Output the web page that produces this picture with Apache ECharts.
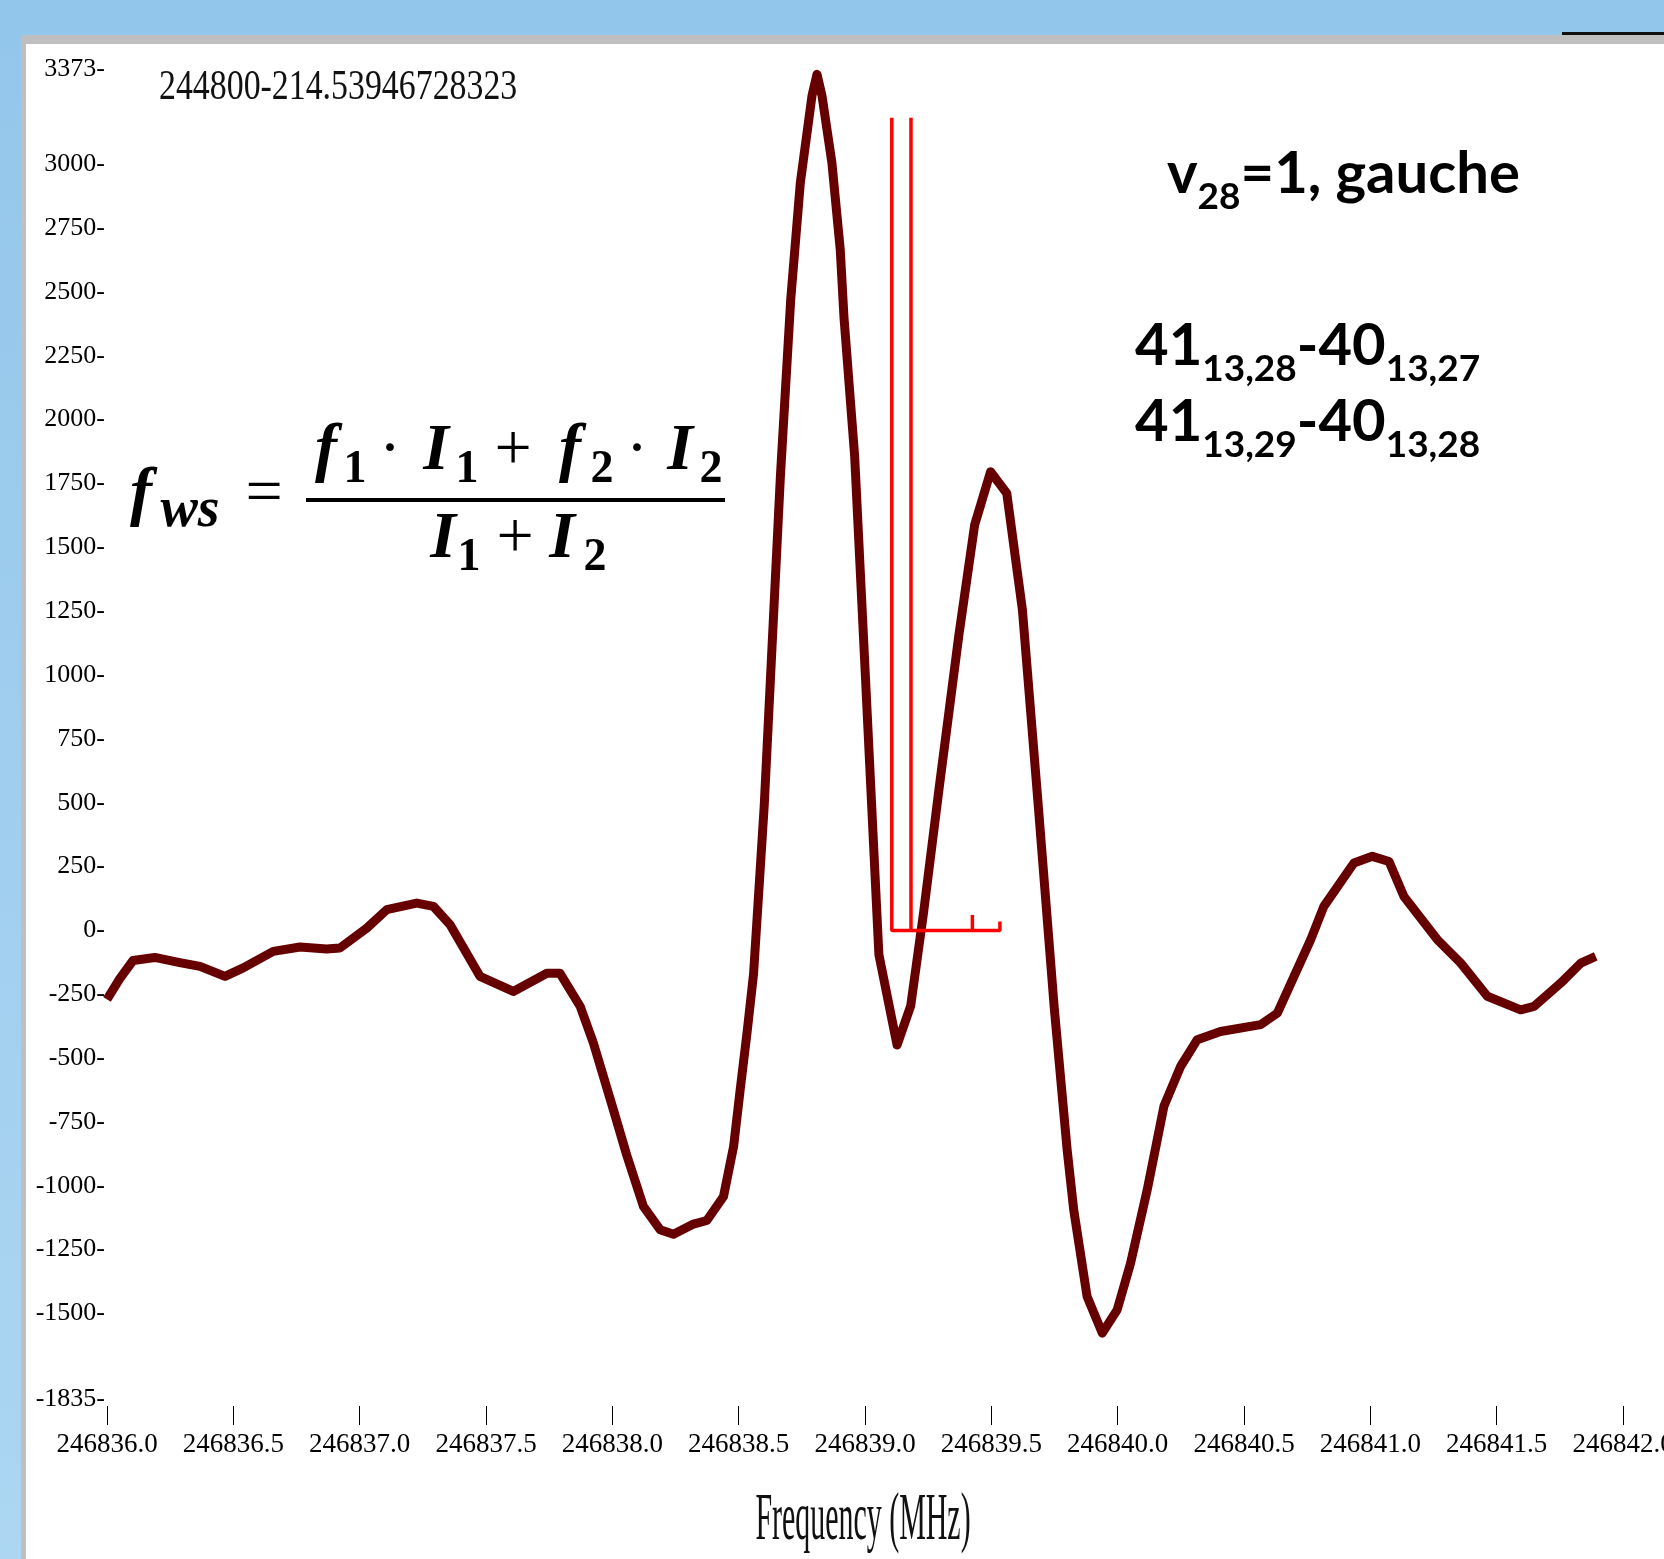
<!DOCTYPE html>
<html>
<head>
<meta charset="utf-8">
<title>gauche v28=1</title>
<script src="https://cdn.jsdelivr.net/npm/echarts@6.0.0/dist/echarts.min.js"></script>
<style>
  html, body { margin: 0; padding: 0; }
  body { width: 1664px; height: 1559px; position: relative; overflow: hidden;
         background: linear-gradient(#93c6eb, #acd6f2); }
  #frame { position: absolute; left: 21px; top: 35px; right: 0; bottom: 0; background: #bfbfbf; }
  #paper { position: absolute; left: 26px; top: 44px; right: 0; bottom: 0; background: #ffffff; }
  #topline { position: absolute; left: 1562px; top: 32px; width: 102px; height: 3px; background: #111; }
  #chart { position: absolute; left: 0; top: 0; width: 1664px; height: 1559px; }
</style>
</head>
<body>
<div id="frame"></div>
<div id="paper"></div>
<div id="topline"></div>
<div id="chart"></div>
<script>
// measured spectrum (MHz, intensity)
const freqMHz = [
  246836.000, 246836.050, 246836.103, 246836.189, 246836.288, 246836.368, 246836.467, 246836.539,
  246836.658, 246836.764, 246836.869, 246836.922, 246837.028, 246837.107, 246837.226, 246837.292,
  246837.358, 246837.476, 246837.608, 246837.741, 246837.793, 246837.873, 246837.925, 246838.004,
  246838.057, 246838.123, 246838.189, 246838.242, 246838.321, 246838.374, 246838.440, 246838.480,
  246838.506, 246838.533, 246838.559, 246838.601, 246838.665, 246838.706, 246838.744, 246838.790,
  246838.810, 246838.830, 246838.869, 246838.902, 246838.917, 246838.959, 246839.000, 246839.055,
  246839.127, 246839.181, 246839.232, 246839.295, 246839.371, 246839.434, 246839.497, 246839.561,
  246839.623, 246839.686, 246839.749, 246839.800, 246839.826, 246839.879, 246839.939, 246839.998,
  246840.051, 246840.117, 246840.183, 246840.249, 246840.315, 246840.407, 246840.566, 246840.632,
  246840.764, 246840.816, 246840.935, 246841.008, 246841.074, 246841.133, 246841.265, 246841.358,
  246841.463, 246841.595, 246841.648, 246841.754, 246841.833, 246841.892
]
const intensity = [
  -270, -190, -118, -106, -126, -141, -180, -147,
  -82, -65, -73, -69, 9, 81, 107, 94,
  22, -180, -239, -168, -168, -298, -441, -702,
  -880, -1081, -1172, -1190, -1150, -1136, -1042, -846,
  -624, -402, -170, 486, 1775, 2470, 2927, 3267,
  3352, 3267, 3006, 2666, 2398, 1858, 1027, -95,
  -449, -295, 71, 570, 1152, 1588, 1796, 1712,
  1255, 486, -303, -859, -1094, -1434, -1577, -1486,
  -1303, -1016, -689, -533, -428, -396, -369, -324,
  -36, 94, 264, 290, 270, 133, -36, -128,
  -258, -311, -298, -206, -128, -102
]

// predicted transitions (stick spectrum)
const stickFreq = [246839.106, 246839.182, 246839.425, 246839.534]
const stickHeight = [3182, 3182, 60, 35]

// axis ticks
const yTickValues = [-1835, -1500, -1250, -1000, -750, -500, -250, 0, 250, 500, 750,
  1000, 1250, 1500, 1750, 2000, 2250, 2500, 2750, 3000, 3373]
const xMin = 246836.0
const xMax = 246842.0
const xStep = 0.5

const spectrum = freqMHz.map(function(f, i) { return [f, intensity[i]] })
const sticks = []
stickFreq.forEach(function(f, i) {
  sticks.push([f, 0], [f, stickHeight[i]], [f, 0])
})

// --- text helpers: zrender draws text with a 'middle' baseline, so shift by the font metrics
const measureCtx = document.createElement('canvas').getContext('2d')
function middleOffset(font, size) {
  measureCtx.font = font
  measureCtx.textBaseline = 'alphabetic'
  const m = measureCtx.measureText('Hg')
  if (m.fontBoundingBoxAscent !== undefined) {
    return (m.fontBoundingBoxAscent - m.fontBoundingBoxDescent) / 2
  }
  return size * 0.34
}
// left to right run of pieces sharing one baseline (dy moves subscripts down)
function textRun(x, baseline, pieces) {
  const els = []
  pieces.forEach(function(p) {
    measureCtx.font = p.font
    const w = measureCtx.measureText(p.text).width
    els.push({
      type: 'text', x: x, y: baseline + (p.dy || 0) - middleOffset(p.font, p.size), z: 10,
      style: { text: p.text, font: p.font, fill: '#000', verticalAlign: 'middle' }
    })
    x += w
  })
  return els
}
// single glyph centred at cx on a baseline
function glyphAt(cx, baseline, text, font, size) {
  return {
    type: 'text', x: cx, y: baseline - middleOffset(font, size), z: 10,
    style: { text: text, font: font, fill: '#000', align: 'center', verticalAlign: 'middle' }
  }
}

const fIt = 'italic bold 66px "Liberation Serif"'
const fSub = 'bold 46px "Liberation Serif"'
const fWs = 'italic bold 56px "Liberation Serif"'
const fOp = '66px "Liberation Serif"'
const lMain = 'bold 58px Lato'
const lSub = 'bold 37px Lato'

const formula = [
  glyphAt(141, 518, 'f', fIt, 66), glyphAt(190, 531, 'ws', fWs, 56), glyphAt(264, 518, '=', fOp, 66),
  // numerator
  glyphAt(326, 474, 'f', fIt, 66), glyphAt(355, 486, '1', fSub, 46), glyphAt(390, 474, '·', fOp, 66),
  glyphAt(436, 474, 'I', fIt, 66), glyphAt(467, 486, '1', fSub, 46), glyphAt(513, 474, '+', fOp, 66),
  glyphAt(570, 474, 'f', fIt, 66), glyphAt(602, 486, '2', fSub, 46), glyphAt(637, 474, '·', fOp, 66),
  glyphAt(680, 474, 'I', fIt, 66), glyphAt(711, 486, '2', fSub, 46),
  // denominator
  glyphAt(443, 562, 'I', fIt, 66), glyphAt(469, 574, '1', fSub, 46), glyphAt(515, 562, '+', fOp, 66),
  glyphAt(562, 562, 'I', fIt, 66), glyphAt(595, 574, '2', fSub, 46),
  { type: 'rect', z: 10, shape: { x: 306, y: 498, width: 419, height: 4 }, style: { fill: '#000' } }
]

const labels = [].concat(
  textRun(1167, 197, [
    { text: 'v', font: lMain, size: 58 }, { text: '28', font: lSub, size: 37, dy: 15 },
    { text: '=1, gauche', font: lMain, size: 58 }
  ]),
  textRun(1135, 369, [
    { text: '41', font: lMain, size: 58 }, { text: '13,28', font: lSub, size: 37, dy: 15 },
    { text: '-40', font: lMain, size: 58 }, { text: '13,27', font: lSub, size: 37, dy: 15 }
  ]),
  textRun(1135, 445, [
    { text: '41', font: lMain, size: 58 }, { text: '13,29', font: lSub, size: 37, dy: 15 },
    { text: '-40', font: lMain, size: 58 }, { text: '13,28', font: lSub, size: 37, dy: 15 }
  ])
)

const chart = echarts.init(document.getElementById('chart'), null, { renderer: 'canvas' })

chart.setOption({
  animation: false,
  backgroundColor: 'transparent',
  grid: {
    left: 107,
    right: 41,
    top: 69,
    bottom: 160,
    containLabel: false,
    outerBoundsMode: 'none'
  },
  xAxis: {
    type: 'value',
    min: xMin,
    max: xMax,
    interval: xStep,
    offset: 7,
    axisLine: { show: false, onZero: false },
    axisTick: { show: true, length: 19, lineStyle: { color: '#000', width: 1 } },
    splitLine: { show: false },
    axisLabel: {
      margin: 25,
      color: '#000',
      fontFamily: 'Liberation Serif',
      fontSize: 27,
      formatter(v) { return v.toFixed(1) }
    }
  },
  yAxis: {
    type: 'value',
    min: -1835,
    max: 3373,
    axisLine: { show: false },
    axisTick: { show: false },
    splitLine: { show: false },
    axisLabel: {
      customValues: yTickValues,
      margin: 2,
      color: '#000',
      fontFamily: 'Liberation Serif',
      fontSize: 26,
      formatter(v) { return v + '-' }
    }
  },
  series: [
    {
      name: 'observed',
      type: 'line',
      data: spectrum,
      showSymbol: false,
      lineStyle: { color: '#660000', width: 9, join: 'round' },
      z: 3
    },
    {
      name: 'predicted',
      type: 'line',
      data: sticks,
      showSymbol: false,
      lineStyle: { color: '#ff0000', width: 3.5 },
      z: 4
    }
  ],
  graphic: [
    {
      type: 'text', x: 159, y: 88, scaleX: 0.806, z: 10,
      style: { text: '244800-214.53946728323', font: '42px "Liberation Serif"', fill: '#111', verticalAlign: 'middle' }
    },
    {
      type: 'text', x: 863, y: 1521, scaleX: 0.44, z: 10,
      style: { text: 'Frequency (MHz)', font: '68px "Liberation Serif"', fill: '#111', align: 'center', verticalAlign: 'middle' }
    }
  ].concat(formula, labels)
})
</script>
</body>
</html>
